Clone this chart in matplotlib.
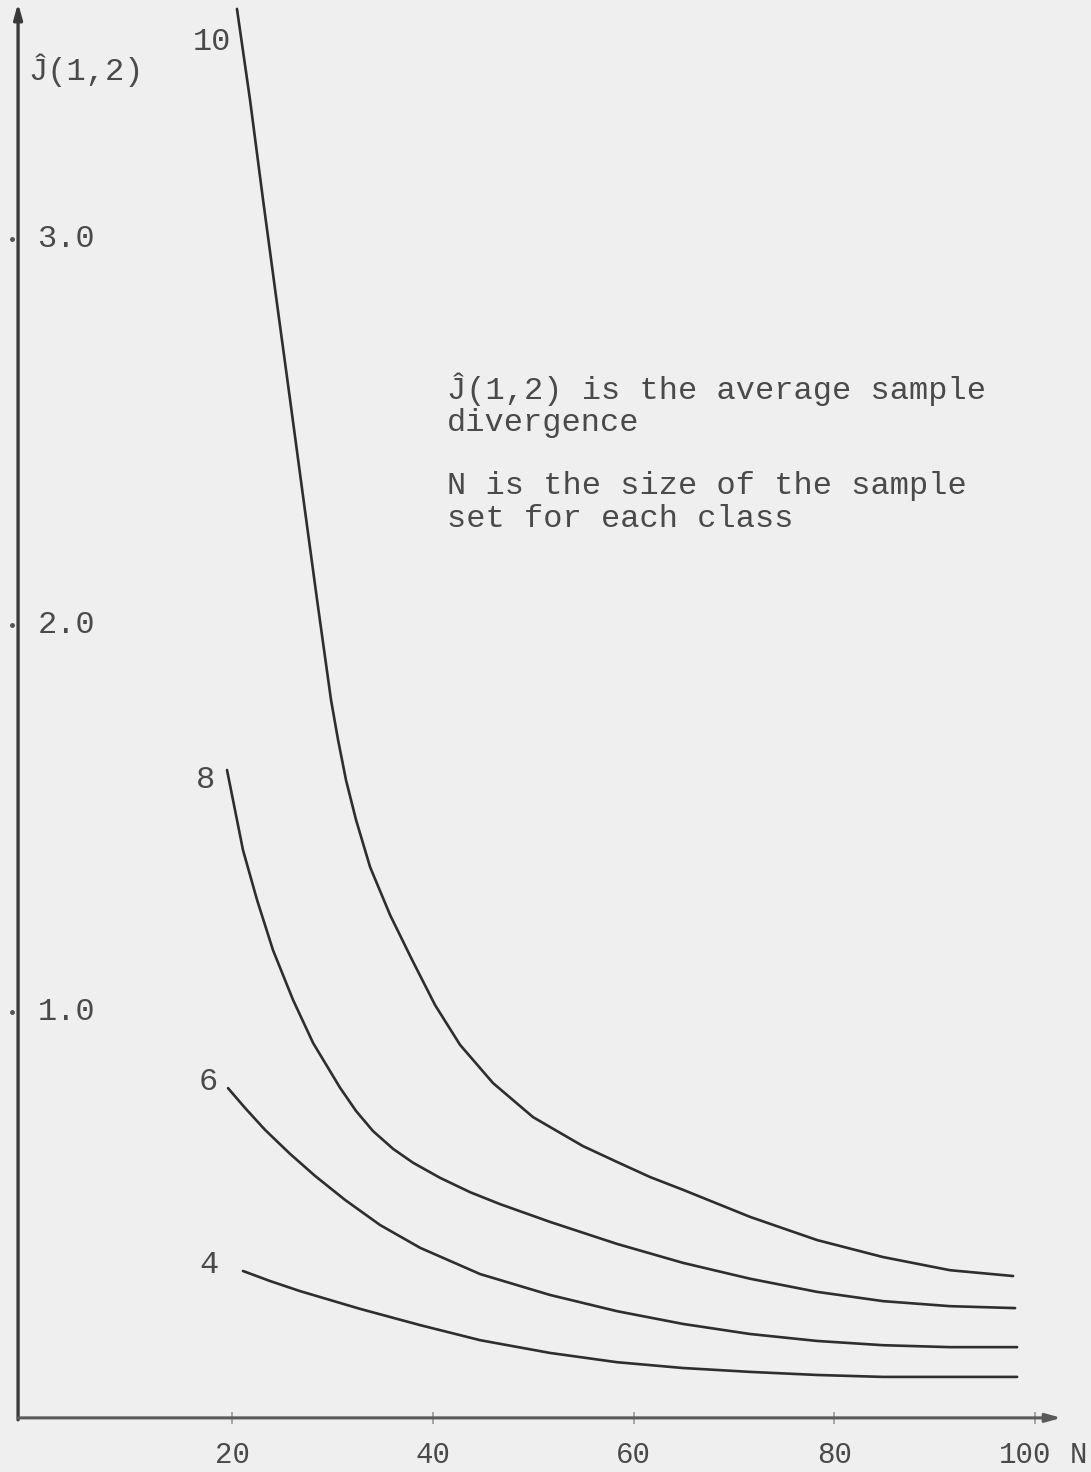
import numpy as np
import matplotlib.pyplot as plt

# sample size N for each curve, and the average sample divergence J(1,2)
n_10 = [20.49, 21.79, 23.09, 24.43, 25.78, 27.12, 28.47, 29.86, 30.56, 31.35, 32.35,
        33.75, 35.74, 37.93, 40.22, 42.71, 46.00, 49.98, 54.96, 58.35, 61.64, 64.92,
        71.59, 78.27, 84.84, 91.51, 97.79]
j_10 = [3.595, 3.360, 3.101, 2.842, 2.584, 2.325, 2.066, 1.807, 1.704, 1.600, 1.497,
        1.375, 1.251, 1.135, 1.018, 0.915, 0.816, 0.728, 0.653, 0.612, 0.573, 0.540,
        0.470, 0.410, 0.366, 0.332, 0.317]

n_8 = [19.50, 20.10, 21.09, 22.49, 24.08, 26.08, 28.07, 30.76, 32.35, 34.04, 36.04,
       38.03, 40.72, 43.70, 46.69, 51.67, 58.35, 64.92, 71.59, 78.27, 84.84, 91.51, 97.99]
j_8 = [1.626, 1.548, 1.419, 1.290, 1.160, 1.031, 0.920, 0.804, 0.744, 0.692, 0.646,
       0.610, 0.571, 0.534, 0.503, 0.457, 0.400, 0.351, 0.310, 0.276, 0.252, 0.239, 0.234]

n_6 = [19.60, 21.29, 23.29, 25.78, 28.27, 31.25, 34.74, 38.73, 44.71, 51.67, 58.35,
       64.92, 71.59, 78.27, 84.84, 91.51, 98.19]
j_6 = [0.803, 0.752, 0.695, 0.633, 0.576, 0.514, 0.449, 0.390, 0.322, 0.268, 0.226,
       0.193, 0.167, 0.149, 0.138, 0.133, 0.133]

n_4 = [21.09, 23.79, 26.77, 32.75, 38.73, 44.71, 51.67, 58.35, 64.92, 71.59, 78.27,
       84.84, 91.51, 98.19]
j_4 = [0.330, 0.304, 0.278, 0.232, 0.190, 0.151, 0.118, 0.094, 0.079, 0.069, 0.061,
       0.056, 0.056, 0.056]

curve_labels = ["10", "8", "6", "4"]
x_ticks = [20, 40, 60, 80, 100]
y_ticks = [1.0, 2.0, 3.0]

FONT = ["Liberation Mono", "DejaVu Sans Mono"]
INK = "#2e2e2e"
TXT = "#4a4a4a"
FS = 23


def main():
    fig = plt.figure(figsize=(10.91, 14.72), dpi=100, facecolor="#efefef")
    ax = fig.add_axes([0, 0, 1, 1])
    ax.set_facecolor("#efefef")
    ax.set_xlim(-3.11, 105.55)
    ax.set_ylim(-0.19, 3.618)
    ax.axis("off")

    # axes drawn by hand with arrow heads
    x0, y0 = -1.31, -0.05
    ax.annotate("", xy=(x0, 3.61), xytext=(x0, y0 - 0.005), annotation_clip=False,
                arrowprops=dict(arrowstyle="-|>,head_length=0.9,head_width=0.25",
                                color="#3a3a3a", lw=2.4, shrinkA=0, shrinkB=0))
    ax.annotate("", xy=(102.6, y0), xytext=(x0, y0), annotation_clip=False,
                arrowprops=dict(arrowstyle="-|>,head_length=0.9,head_width=0.25",
                                color="#5a5a5a", lw=2.2, shrinkA=0, shrinkB=0))

    # tick marks
    ax.plot(x_ticks, [y0] * len(x_ticks), ls="none", marker="|", ms=8, mew=1.2,
            color="#999999")
    ax.plot([x0 - 0.6] * 3, y_ticks, ls="none", marker="o", ms=2.5, color="#555555")

    # x labels; the last one sits a little left with the axis name beside it
    for t in x_ticks[:-1]:
        ax.text(t, -0.146, str(t), family=FONT, fontsize=21, color=TXT,
                ha="center", va="center")
    ax.text(99.0, -0.146, str(x_ticks[-1]), family=FONT, fontsize=21, color=TXT,
            ha="center", va="center")
    ax.text(104.3, -0.146, "N", family=FONT, fontsize=21, color=TXT,
            ha="center", va="center")

    for t in y_ticks:
        ax.text(0.6, t, f"{t:.1f}", family=FONT, fontsize=FS, color=TXT,
                ha="left", va="center")
    ax.text(-0.3, 3.437, "Ĵ(1,2)", family=FONT, fontsize=FS, color=TXT,
            ha="left", va="center")

    # the four curves
    for n, j in [(n_10, j_10), (n_8, j_8), (n_6, j_6), (n_4, j_4)]:
        ax.plot(n, j, color=INK, lw=1.9, solid_capstyle="round", solid_joinstyle="round")

    label_pos = [(18.0, 3.51), (17.4, 1.60), (17.6, 0.82), (17.7, 0.345)]
    for lab, (lx, ly) in zip(curve_labels, label_pos):
        ax.text(lx, ly, lab, family=FONT, fontsize=FS, color=TXT,
                ha="center", va="center")

    # explanatory note
    notes = [(2.61, "Ĵ(1,2) is the average sample"),
             (2.525, "divergence"),
             (2.36, "N is the size of the sample"),
             (2.275, "set for each class")]
    for ny, line in notes:
        ax.text(41.4, ny, line, family=FONT, fontsize=FS, color=TXT,
                ha="left", va="center")

    fig.savefig("out.png", dpi=100, facecolor=fig.get_facecolor())
    plt.close(fig)


if __name__ == "__main__":
    main()
